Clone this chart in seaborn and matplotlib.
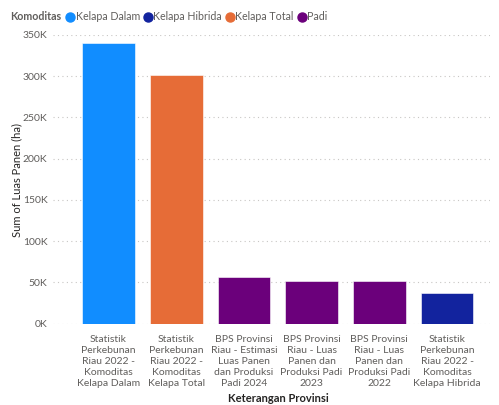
import matplotlib
matplotlib.use("Agg")
import matplotlib.pyplot as plt
import seaborn as sns
import pandas as pd
from matplotlib.lines import Line2D
from matplotlib.ticker import FuncFormatter, MultipleLocator

categories = [
    "Statistik\nPerkebunan\nRiau 2022 -\nKomoditas\nKelapa Dalam",
    "Statistik\nPerkebunan\nRiau 2022 -\nKomoditas\nKelapa Total",
    "BPS Provinsi\nRiau - Estimasi\nLuas Panen\ndan Produksi\nPadi 2024",
    "BPS Provinsi\nRiau - Luas\nPanen dan\nProduksi Padi\n2023",
    "BPS Provinsi\nRiau - Luas\nPanen dan\nProduksi Padi\n2022",
    "Statistik\nPerkebunan\nRiau 2022 -\nKomoditas\nKelapa Hibrida",
]
komoditas = ["Kelapa Dalam", "Kelapa Total", "Padi", "Padi", "Padi", "Kelapa Hibrida"]
luas_panen = [340000, 302000, 56200, 52100, 51400, 37600]

legend_names = ["Kelapa Dalam", "Kelapa Hibrida", "Kelapa Total", "Padi"]
colors = {"Kelapa Dalam": "#118DFF", "Kelapa Hibrida": "#12239E",
          "Kelapa Total": "#E66C37", "Padi": "#6B007B"}

df = pd.DataFrame({"Keterangan": categories, "Komoditas": komoditas, "Luas": luas_panen})

sns.set_theme(style="white")
plt.rcParams["font.family"] = ["Lato", "DejaVu Sans"]

fig = plt.figure(figsize=(4.99, 4.05), dpi=100)
ax = fig.add_axes([53 / 499, (405 - 323.7) / 405, (490 - 53) / 499, (323.7 - 35) / 405])

sns.barplot(data=df, x="Keterangan", y="Luas", hue="Komoditas", palette=colors,
            saturation=1, dodge=False, width=0.78, legend=False, ax=ax,
            edgecolor="white", linewidth=0.4)

ax.set_xlim(-0.82, 5.635)
ax.set_ylim(0, 350000)
ax.yaxis.set_major_locator(MultipleLocator(50000))
ax.yaxis.set_major_formatter(FuncFormatter(lambda v, p: f"{int(v/1000)}K"))
for s in ax.spines.values():
    s.set_visible(False)
ax.grid(axis="y", color="#C8C6C4", linestyle=(0, (1, 3)), linewidth=0.8)
ax.set_axisbelow(True)
ax.tick_params(axis="y", labelsize=7.5, colors="#605E5C", length=0, pad=4)
ax.tick_params(axis="x", labelsize=7.5, colors="#605E5C", length=0, pad=8)
for t in ax.get_xticklabels():
    t.set_linespacing(1.3)
    t.set_horizontalalignment("center")

ax.set_ylabel("")
fig.text(17 / 499, 1 - 180 / 405, "Sum of Luas Panen (ha)", fontsize=8, color="#252423",
         rotation=90, ha="center", va="center")
ax.set_xlabel("")
fig.text(278 / 499, 1 - 399 / 405, "Keterangan Provinsi", fontsize=8, fontweight="bold",
         color="#252423", ha="center", va="center")

fig.text(10 / 499, 1 - 17 / 405, "Komoditas", fontsize=7.7, fontweight="bold",
         color="#605E5C", va="center", ha="left")
handles = [Line2D([], [], linestyle="none", marker="o", markersize=6.5,
                  markerfacecolor=colors[n], markeredgecolor=colors[n]) for n in legend_names]
fig.legend(handles, legend_names, loc="center left", bbox_to_anchor=(67 / 499, 1 - 17 / 405),
           ncol=4, frameon=False, fontsize=7.7, handlelength=0.6, handletextpad=0.2,
           columnspacing=0.45, borderaxespad=0, borderpad=0, labelcolor="#605E5C")

fig.savefig("out.png", dpi=100)
